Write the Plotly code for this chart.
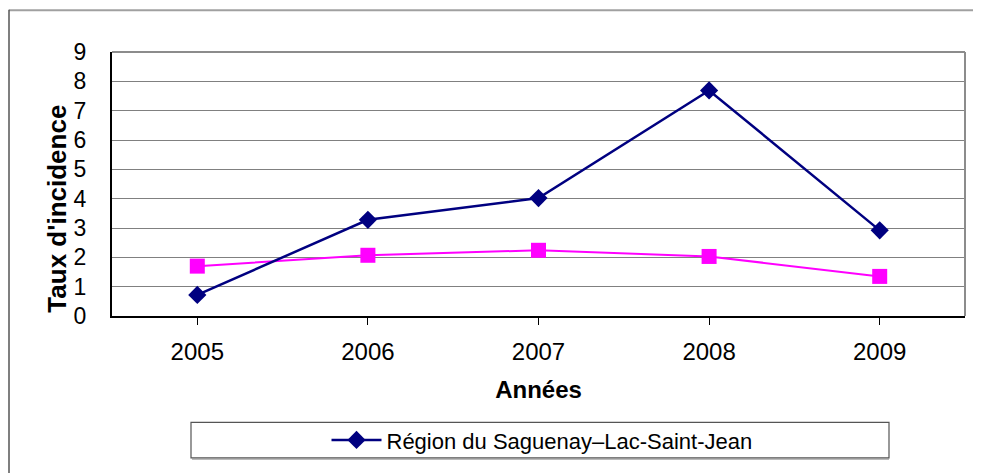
import plotly.graph_objects as go

years = ["2005", "2006", "2007", "2008", "2009"]
region_values = [0.72, 3.28, 4.02, 7.69, 2.92]
province_values = [1.70, 2.07, 2.24, 2.03, 1.35]
region_name = "Région du Saguenay–Lac-Saint-Jean"
y_ticks = [0, 1, 2, 3, 4, 5, 6, 7, 8, 9]

# page body has an 8px margin; figure is sized / offset to compensate
OFF = 8
W, H = 981 - OFF, 473 - OFF
L, R, T, B = 112 - OFF, 16, 52 - OFF, 153
pw, ph = W - L - R, H - T - B

def px(sx):
    return (sx - OFF - L) / pw

def py(sy):
    return (H - B - (sy - OFF)) / ph

fig = go.Figure()
fig.add_trace(go.Scatter(
    x=years, y=province_values, mode="lines+markers",
    line=dict(color="#FF00FF", width=2),
    marker=dict(symbol="square", size=15, color="#FF00FF"),
    showlegend=False, name="Province"))
fig.add_trace(go.Scatter(
    x=years, y=region_values, mode="lines+markers",
    line=dict(color="#000080", width=2.5),
    marker=dict(symbol="diamond", size=14, color="#000080"),
    name=region_name))

shapes = [
    # outer chart frame (top and left visible)
    dict(type="line", xref="paper", yref="paper",
         x0=px(9), x1=px(990), y0=py(9.5), y1=py(9.5),
         line=dict(color="#a0a0a0", width=2), layer="below"),
    dict(type="line", xref="paper", yref="paper",
         x0=px(9), x1=px(9), y0=py(9), y1=py(480),
         line=dict(color="#555555", width=1.5), layer="below"),
    # legend shadow + box
    dict(type="line", xref="paper", yref="paper",
         x0=px(192), x1=px(889), y0=py(465.5), y1=py(465.5),
         line=dict(color="#bbbbbb", width=1.5)),
    dict(type="rect", xref="paper", yref="paper",
         x0=px(191), x1=px(889), y0=py(464), y1=py(428),
         line=dict(color="#555555", width=1.2), fillcolor="white"),
    # top and right border of plot area
    dict(type="line", xref="paper", yref="paper", x0=0, x1=1, y0=1, y1=1,
         line=dict(color="#8c8c8c", width=2)),
    dict(type="line", xref="paper", yref="paper", x0=1, x1=1, y0=0, y1=1,
         line=dict(color="#8c8c8c", width=2)),
]

annotations = [
    dict(text="<b>Taux d'incidence</b>", textangle=-90, showarrow=False,
         xref="paper", yref="paper", x=px(57), y=py(211),
         xanchor="center", yanchor="middle", font=dict(size=26, color="black")),
]

fig.update_layout(
    width=W, height=H,
    margin=dict(l=L, r=R, t=T, b=B),
    paper_bgcolor="white", plot_bgcolor="white",
    font=dict(family="Liberation Sans, Arial, sans-serif", color="black"),
    shapes=shapes,
    annotations=annotations,
    showlegend=True,
    legend=dict(x=px(542), xanchor="center", y=py(446), yanchor="middle",
                orientation="h", bgcolor="rgba(0,0,0,0)",
                font=dict(size=22, color="black"), itemwidth=50),
    xaxis=dict(type="category", range=[-0.5, 4.5],
               showline=True, linecolor="black", linewidth=2,
               showgrid=False, ticks="outside", ticklen=7, tickcolor="black",
               tickfont=dict(size=24), ticklabelstandoff=6,
               title=dict(text="<b>Années</b>", font=dict(size=24), standoff=17),
               zeroline=False),
    yaxis=dict(range=[0, 9], tickvals=y_ticks,
               showline=True, linecolor="black", linewidth=2,
               showgrid=True, gridcolor="#808080", gridwidth=1,
               ticks="", tickfont=dict(size=23), ticklabelstandoff=19,
               zeroline=False),
)

fig.write_html("out.html")
